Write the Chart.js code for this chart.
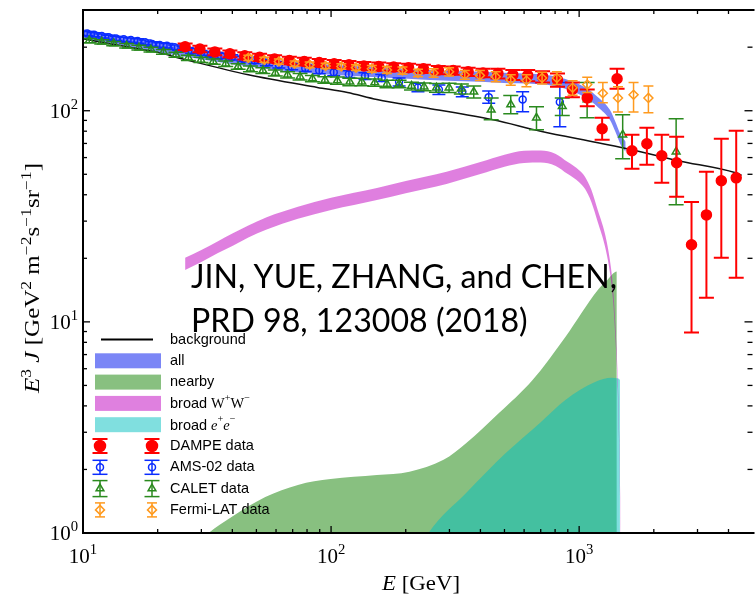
<!DOCTYPE html>
<html><head><meta charset="utf-8">
<script src="https://cdn.jsdelivr.net/npm/chart.js@4.4.1/dist/chart.umd.min.js"></script>
<style>html,body{margin:0;padding:0;background:#fff;}#wrap{width:756px;height:599px;position:relative;}</style>
</head><body><div id="wrap"><canvas id="c" width="756" height="599"></canvas></div>
<script>
// ---------------- axes ----------------
const X_MIN = 10, X_MAX = 4861, Y_MIN = 1, Y_MAX = 300;
const xTickValues = [10, 100, 1000];
const xTickLabels = [['10', '1'], ['10', '2'], ['10', '3']];
const yTickValues = [1, 10, 100];
const yTickLabels = [['10', '0'], ['10', '1'], ['10', '2']];
const xMinorTicks = [20, 30, 40, 50, 60, 70, 80, 90, 200, 300, 400, 500, 600, 700, 800, 900, 2000, 3000, 4000];
const yMinorTicks = [2, 3, 4, 5, 6, 7, 8, 9, 20, 30, 40, 50, 60, 70, 80, 90, 200];

// ---------------- model curves ----------------
const bgE = [10, 15, 20, 25.5, 46.4, 88, 116.5, 153, 243, 450, 700, 1191, 1630, 2500, 4275, 4516];
const bgJ = [219, 201, 189, 175.5, 148, 129, 122, 113, 103, 90.6, 80, 70.5, 65.3, 58, 50.8, 49.5];

const allE  = [10, 15, 20, 25.8, 40, 60, 100, 153, 250, 400, 520, 729, 880, 1058, 1191, 1330, 1400, 1470, 1540];
const allUp = [243, 224, 211, 201, 185, 174, 165, 161, 156, 153, 151, 148, 141.5, 129, 116, 101, 88.7, 77.1, 71.3];
const allLo = [218, 201, 189, 180, 166, 156, 148, 144, 140, 137, 135, 133, 127, 115.5, 104, 90.6, 79.5, 69.1, 63.9];

const nearbyE = [18, 25, 32.1, 39.7, 54.3, 73.5, 99.5, 153, 207, 284, 351, 475, 649, 880, 1191, 1300, 1418, 1419];
const nearbyJ = [0.4, 0.75, 1.0, 1.19, 1.48, 1.69, 1.80, 1.88, 1.95, 2.22, 2.67, 3.70, 5.31, 8.49, 14.2, 15.8, 17.3, 0.1];

const wwE  = [25.8, 30, 35, 40, 46.4, 55, 73.5, 100, 153, 200, 292, 400, 500, 600, 700, 801, 900, 1000, 1057, 1120, 1191, 1270, 1332, 1369, 1400, 1431, 1455, 1469, 1480];
const wwUp = [20.1, 21.9, 24.1, 26.2, 28.6, 31.3, 35.1, 38.7, 43.1, 46.5, 51.4, 57.1, 61.9, 64.6, 64.9, 62.6, 57.1, 52.3, 48.6, 42.2, 33.6, 26.2, 19.4, 14.6, 9.6, 5.4, 2.35, 1.07, 0.43];
const wwLo = [17.6, 19.2, 21.2, 22.9, 25.1, 27.4, 30.8, 33.9, 37.8, 40.7, 45.0, 50.1, 54.3, 56.6, 56.9, 54.9, 50.1, 45.9, 42.6, 37.0, 29.5, 22.9, 17.0, 12.8, 8.4, 4.8, 2.06, 0.94, 0.37];

const eeE = [180, 247, 351, 506, 700, 880, 1159, 1354, 1418, 1460, 1461];
const eeJ = [0.5, 1.0, 1.55, 2.39, 3.35, 4.27, 5.19, 5.43, 5.4, 5.3, 0.1];

// ---------------- data sets ----------------
const dampeE = [25.8, 29.6, 34.0, 39.1, 44.9, 51.5, 59.2, 67.9, 78.0, 89.6, 102.9, 118.1, 135.6, 155.7, 178.8, 205.3, 235.7, 270.7, 310.8, 356.9, 409.8, 470.5, 540.3, 620.4, 712.3, 817.9, 939.2, 1078, 1238, 1422, 1633, 1875, 2153, 2472, 2838, 3259, 3742, 4297];
const dampeJ = [201, 196, 190, 186, 182, 179, 176, 173, 171, 169, 167, 165, 163, 162, 161, 160, 158, 156, 155, 153, 151, 150, 148, 147, 145, 140, 126, 115, 82.2, 141.8, 64.6, 69.8, 61.2, 56.7, 23.2, 32.1, 46.6, 48.1];
const dampeErrDown = [7, 7, 7, 7, 7, 7, 7, 7, 7, 7, 7, 7, 7, 7, 7, 7, 7, 7, 7, 7, 7, 8, 8, 9, 9, 10, 10, 10, 9.3, 14.8, 11.5, 14.3, 15.6, 17.6, 14.3, 19.1, 26.5, 31.9];
const dampeErrUp   = [7, 7, 7, 7, 7, 7, 7, 7, 7, 7, 7, 7, 7, 7, 7, 7, 7, 7, 7, 7, 7, 8, 8, 9, 9, 10, 10, 11, 10.4, 16.2, 12.3, 13.3, 15.7, 18.6, 13.8, 19.3, 27.1, 32.3];

const amsE = [10.4, 11.1, 11.9, 12.7, 13.6, 14.6, 15.6, 16.6, 17.8, 19.0, 20.4, 21.8, 23.4, 25.3, 27.4, 29.9, 32.8, 36.0, 39.8, 44.2, 49.2, 54.9, 61.6, 69.4, 78.7, 89.6, 102.5, 118, 137, 160, 188, 224, 272, 338, 432, 592, 836];
const amsJ = [232, 229, 226, 223, 220, 218, 216, 214, 211, 207, 205, 203, 200, 197, 192, 188, 185, 182, 179, 176, 173, 169, 165, 162, 159, 155, 152, 149, 146, 143, 137, 129, 126, 123, 116, 113, 110];
const amsErrDown = [5, 5, 5, 5, 5, 5, 5, 5, 5, 5, 5, 5, 5, 5, 5, 5, 5, 5, 5, 5, 5.5, 5.5, 5.5, 5.5, 5.5, 5.5, 5.5, 5.5, 5.5, 5.5, 6, 6, 6.5, 6.5, 7.5, 14, 26];
const amsErrUp   = [5, 5, 5, 5, 5, 5, 5, 5, 5, 5, 5, 5, 5, 5, 5, 5, 5, 5, 5, 5, 5.5, 5.5, 5.5, 5.5, 5.5, 5.5, 5.5, 5.5, 5.5, 5.5, 6, 6, 6.5, 6.5, 8, 10, 26];

const calE = [10.6, 11.9, 13.3, 15.0, 16.8, 18.8, 21.1, 23.7, 26.6, 29.9, 33.5, 37.6, 42.2, 47.3, 53.1, 59.6, 66.8, 75.0, 84.1, 94.4, 106, 119, 133, 150, 168, 188, 211, 237, 266, 299, 335, 376, 442, 530, 673, 855, 1077, 1498, 2460];
const calJ = [215, 212, 208, 203, 199, 195, 190, 184, 178, 174, 171, 167, 162, 158, 155, 151, 148, 145, 142, 140, 139, 137, 137, 136, 134, 134, 131, 130, 128.5, 128.5, 127, 123, 101, 107, 92.6, 105, 113, 77, 64];
const calErrDown = [5, 5, 5, 5, 5, 5, 5, 5, 5, 5, 5, 5, 5, 5, 5, 5, 5, 5, 5, 5, 5.5, 5.5, 5.5, 5.5, 5.5, 5.5, 5.5, 5.5, 6, 6.5, 7, 8, 10.4, 10.2, 11.3, 10, 20.4, 17.8, 28.1];
const calErrUp   = [5, 5, 5, 5, 5, 5, 5, 5, 5, 5, 5, 5, 5, 5, 5, 5, 5, 5, 5, 5, 5.5, 5.5, 5.5, 5.5, 5.5, 5.5, 5.5, 5.5, 6, 6.5, 7, 8, 14, 11, 11.9, 10, 23, 18.7, 27.7];

const fermiE = [46.4, 53.8, 61.6, 71.3, 82.0, 95.1, 110, 126, 146, 168, 194, 224, 259, 299, 346, 398, 461, 530, 613, 709, 813, 941, 1078, 1246, 1434, 1657, 1902];
const fermiJ = [178, 174, 171, 167, 165, 163, 162, 160, 158, 156, 155, 151, 151, 153, 148, 147, 145, 140, 139, 143, 143, 128.5, 133, 121, 115, 119, 115];
const fermiErrDown = [5, 5, 5, 5, 5, 5, 5, 5, 6, 6, 6, 6, 7, 7, 7, 8, 8, 8, 9, 9, 10, 10, 11, 12, 16.4, 20.4, 17.2];
const fermiErrUp   = [5, 5, 5, 5, 5, 5, 5, 5, 6, 6, 6, 6, 7, 7, 7, 8, 8, 8, 9, 9, 10, 10, 11, 15, 15, 17, 16];

// ---------------- text ----------------
const legendNames = ['background', 'all', 'nearby', 'broad W+W-', 'broad e+e-', 'DAMPE data', 'AMS-02 data', 'CALET data', 'Fermi-LAT data'];
const noteLines = ['JIN, YUE, ZHANG, and CHEN,', 'PRD 98, 123008 (2018)'];

// ---------------- styles ----------------
const RED = '#ff0000', BLUE = '#0a2cff', GREEN = '#2a8a1e', ORANGE = '#ff9a1e';
const ALL_C = '#7b86f6', NEAR_C = '#88c080', WW_C = 'rgba(191,0,191,0.5)', EE_C = 'rgba(0,191,191,0.5)';
const WW_LEG = '#df80df', EE_LEG = '#80dfdf';

const pts = (xs, ys) => xs.map((v, i) => ({x: v, y: ys[i]}));

function bandDs(label, xs, ys, color, fill, order) {
  return {label, data: pts(xs, ys), borderWidth: 0, pointRadius: 0, backgroundColor: color,
    borderColor: 'rgba(0,0,0,0)', fill, cubicInterpolationMode: 'monotone', order};
}
function dataDs(label, xs, ys, dn, up, color, style, r, filled, cap, lw, order) {
  return {label, data: pts(xs, ys), showLine: false, pointStyle: style, pointRadius: r,
    pointBorderWidth: 1.5, pointBorderColor: color, borderColor: color,
    pointBackgroundColor: filled ? color : 'rgba(0,0,0,0)', backgroundColor: color,
    errDown: dn, errUp: up, capWidth: cap, errWidth: lw, order};
}

const errorBars = {
  id: 'errorBars',
  beforeDatasetDraw(chart, args) {
    const ds = chart.data.datasets[args.index];
    if (!ds.errDown) return;
    const {ctx, chartArea: a} = chart, xs = chart.scales.x, ys = chart.scales.y;
    ctx.save();
    ctx.beginPath(); ctx.rect(a.left, a.top, a.right - a.left, a.bottom - a.top); ctx.clip();
    ctx.strokeStyle = ds.borderColor; ctx.lineWidth = ds.errWidth;
    ds.data.forEach((p, i) => {
      const px = xs.getPixelForValue(p.x);
      const y1 = ys.getPixelForValue(p.y - ds.errDown[i]);
      const y2 = ys.getPixelForValue(p.y + ds.errUp[i]);
      const h = ds.capWidth / 2;
      ctx.beginPath();
      ctx.moveTo(px, y1); ctx.lineTo(px, y2);
      ctx.moveTo(px - h, y1); ctx.lineTo(px + h, y1);
      ctx.moveTo(px - h, y2); ctx.lineTo(px + h, y2);
      ctx.stroke();
    });
    ctx.restore();
  }
};

function segFont(s, size, fam) {
  const sz = s.sup ? size * 0.7 : size;
  return (s.i ? 'italic ' : '') + sz + 'px ' + (s.fam || fam);
}
function richWidth(ctx, segs, size, fam) {
  let w = 0;
  segs.forEach(s => { ctx.font = segFont(s, size, fam); w += ctx.measureText(s.t).width; });
  return w;
}
function drawRich(ctx, segs, x, y, size, fam, align) {
  let w = 0;
  const ws = segs.map(s => { ctx.font = segFont(s, size, fam); const m = ctx.measureText(s.t).width; w += m; return m; });
  let cx = align === 'center' ? x - w / 2 : align === 'right' ? x - w : x;
  segs.forEach((s, k) => {
    ctx.font = segFont(s, size, fam);
    ctx.fillText(s.t, cx, s.sup ? y - size * 0.42 : y);
    cx += ws[k];
  });
}

function marker(ctx, kind, x, y, r) {
  ctx.beginPath();
  if (kind === 'circle') { ctx.arc(x, y, r, 0, Math.PI * 2); }
  else if (kind === 'triangle') {
    for (let k = 0; k < 3; k++) { const a = k * 2 * Math.PI / 3; const px = x + Math.sin(a) * r, py = y - Math.cos(a) * r; k ? ctx.lineTo(px, py) : ctx.moveTo(px, py); }
    ctx.closePath();
  } else { ctx.moveTo(x, y - r); ctx.lineTo(x + r, y); ctx.lineTo(x, y + r); ctx.lineTo(x - r, y); ctx.closePath(); }
}

const SERIF = '"Liberation Serif", "DejaVu Serif", serif';
const SANS = '"Liberation Sans", Arial, sans-serif';

const decor = {
  id: 'decor',
  afterDraw(chart) {
    const {ctx, chartArea: a} = chart, xs = chart.scales.x, ys = chart.scales.y;
    ctx.save();
    ctx.strokeStyle = '#000'; ctx.fillStyle = '#000'; ctx.lineWidth = 1.3;
    const seg = (x1, y1, x2, y2) => { ctx.beginPath(); ctx.moveTo(x1, y1); ctx.lineTo(x2, y2); ctx.stroke(); };
    const rs = a.right + 3;
    xTickValues.forEach(v => { const p = xs.getPixelForValue(v); seg(p, a.bottom, p, a.bottom - 7); seg(p, a.top, p, a.top + 7); });
    xMinorTicks.forEach(v => { const p = xs.getPixelForValue(v); seg(p, a.bottom, p, a.bottom - 4); seg(p, a.top, p, a.top + 4); });
    yTickValues.forEach(v => { const p = ys.getPixelForValue(v); seg(a.left, p, a.left + 7, p); seg(rs, p, rs - 8, p); });
    yMinorTicks.forEach(v => { const p = ys.getPixelForValue(v); seg(a.left, p, a.left + 4, p); seg(rs, p, rs - 5, p); });
    ctx.lineWidth = 2;
    ctx.beginPath();
    ctx.moveTo(a.right + 5, a.top); ctx.lineTo(a.left, a.top); ctx.lineTo(a.left, a.bottom); ctx.lineTo(a.right + 5, a.bottom);
    ctx.stroke();

    // tick labels
    ctx.textBaseline = 'alphabetic';
    xTickValues.forEach((v, k) => {
      const p = xs.getPixelForValue(v);
      drawRich(ctx, [{t: xTickLabels[k][0]}, {t: xTickLabels[k][1], sup: 1}], p, 563, 21, SERIF, 'center');
    });
    yTickValues.forEach((v, k) => {
      const p = ys.getPixelForValue(v);
      drawRich(ctx, [{t: yTickLabels[k][0]}, {t: yTickLabels[k][1], sup: 1}], 78, p + 7, 21, SERIF, 'right');
    });
    // axis titles
    const xt = [{t: 'E', i: 1}, {t: ' [GeV]'}];
    const xw = richWidth(ctx, xt, 21, SERIF);
    ctx.save();
    ctx.translate(421, 590); ctx.scale(78 / xw, 1);
    drawRich(ctx, xt, 0, 0, 21, SERIF, 'center');
    ctx.restore();
    const yt = [{t: 'E', i: 1}, {t: '3', sup: 1}, {t: ' '}, {t: 'J', i: 1}, {t: ' [GeV'}, {t: '2', sup: 1}, {t: ' m'},
      {t: '\u22122', sup: 1}, {t: 's'}, {t: '\u22121', sup: 1}, {t: 'sr'}, {t: '\u22121', sup: 1}, {t: ']'}];
    const yw = richWidth(ctx, yt, 20, SERIF);
    ctx.save();
    ctx.translate(39, 278); ctx.rotate(-Math.PI / 2); ctx.scale(230 / yw, 1);
    drawRich(ctx, yt, 0, 0, 20, SERIF, 'center');
    ctx.restore();

    // legend
    const rows = [339.5, 360.8, 382.1, 403.4, 424.7, 446, 467.3, 488.6, 509.9];
    const tx = 170;
    ctx.textBaseline = 'middle';
    ctx.strokeStyle = '#000'; ctx.lineWidth = 2; seg(101, rows[0], 153, rows[0]);
    [[ALL_C, 1], [NEAR_C, 2], [WW_LEG, 3], [EE_LEG, 4]].forEach(([c, k]) => { ctx.fillStyle = c; ctx.fillRect(95, rows[k] - 7.5, 66, 15); });
    const mk = [[5, RED, 'circle', 5.5, true, 15, 2, 7], [6, BLUE, 'circle', 3.5, false, 15, 1.5, 7],
                [7, GREEN, 'triangle', 4.5, false, 15, 1.5, 8], [8, ORANGE, 'diamond', 4.5, false, 10, 1.5, 7]];
    mk.forEach(([k, c, shape, r, filled, cap, lw, half]) => {
      [100, 152].forEach(mx => {
        const my = rows[k];
        ctx.strokeStyle = c; ctx.lineWidth = lw;
        seg(mx, my - half, mx, my + half); seg(mx - cap / 2, my - half, mx + cap / 2, my - half); seg(mx - cap / 2, my + half, mx + cap / 2, my + half);
        marker(ctx, shape, mx, my, r);
        if (filled) { ctx.fillStyle = c; ctx.fill(); }
        ctx.lineWidth = 1.5; ctx.stroke();
      });
    });
    ctx.fillStyle = '#000';
    const F = 14.5;
    legendNames.forEach((name, k) => {
      if (k === 3) drawRich(ctx, [{t: 'broad ', fam: SANS}, {t: 'W'}, {t: '+', sup: 1}, {t: 'W'}, {t: '\u2212', sup: 1}], tx, rows[k] + 1, F, SERIF, 'left');
      else if (k === 4) drawRich(ctx, [{t: 'broad ', fam: SANS}, {t: 'e', i: 1}, {t: '+', sup: 1}, {t: 'e', i: 1}, {t: '\u2212', sup: 1}], tx, rows[k] + 1, F, SERIF, 'left');
      else { ctx.font = F + 'px ' + SANS; ctx.fillText(name, tx, rows[k]); }
    });

    // annotation
    ctx.textBaseline = 'alphabetic';
    ctx.font = '32px Lato, "Open Sans", sans-serif';
    const w1 = ctx.measureText(noteLines[0]).width;
    const sx = 426 / w1;
    ctx.save(); ctx.translate(191, 0); ctx.scale(sx, 1);
    ctx.fillText(noteLines[0], 0, 288);
    ctx.fillText(noteLines[1], 0, 332);
    ctx.restore();
    ctx.restore();
  }
};

new Chart(document.getElementById('c'), {
  type: 'line',
  data: {
    datasets: [
      dataDs(legendNames[8], fermiE, fermiJ, fermiErrDown, fermiErrUp, ORANGE, 'rectRot', 4.5, false, 10, 1.5, 1),
      dataDs(legendNames[5], dampeE, dampeJ, dampeErrDown, dampeErrUp, RED, 'circle', 5, true, 15, 2, 2),
      dataDs(legendNames[7], calE, calJ, calErrDown, calErrUp, GREEN, 'triangle', 4.5, false, 15, 1.5, 3),
      dataDs(legendNames[6], amsE, amsJ, amsErrDown, amsErrUp, BLUE, 'circle', 3.5, false, 13, 1.5, 4),
      {label: legendNames[0], data: pts(bgE, bgJ), borderColor: '#111', borderWidth: 1.5, pointRadius: 0, fill: false, cubicInterpolationMode: 'monotone', order: 5},
      bandDs(legendNames[3], wwE, wwUp, WW_C, '+1', 6),
      bandDs('ww-lo', wwE, wwLo, WW_C, false, 7),
      bandDs(legendNames[4], eeE, eeJ, EE_C, 'start', 8),
      bandDs(legendNames[2], nearbyE, nearbyJ, NEAR_C, 'start', 9),
      bandDs(legendNames[1], allE, allUp, ALL_C, '+1', 10),
      bandDs('all-lo', allE, allLo, ALL_C, false, 11)
    ]
  },
  options: {
    responsive: false, animation: false, events: [],
    layout: {padding: {top: 10, right: 0, bottom: 0, left: 0}},
    plugins: {legend: {display: false}, tooltip: {enabled: false}},
    scales: {
      x: {type: 'logarithmic', min: X_MIN, max: X_MAX, grid: {display: false}, border: {display: false},
          ticks: {display: false}, afterFit: s => { s.height = 66; }},
      y: {type: 'logarithmic', min: Y_MIN, max: Y_MAX, grid: {display: false}, border: {display: false},
          ticks: {display: false}, afterFit: s => { s.width = 83; }}
    }
  },
  plugins: [errorBars, decor]
});
</script></body></html>
